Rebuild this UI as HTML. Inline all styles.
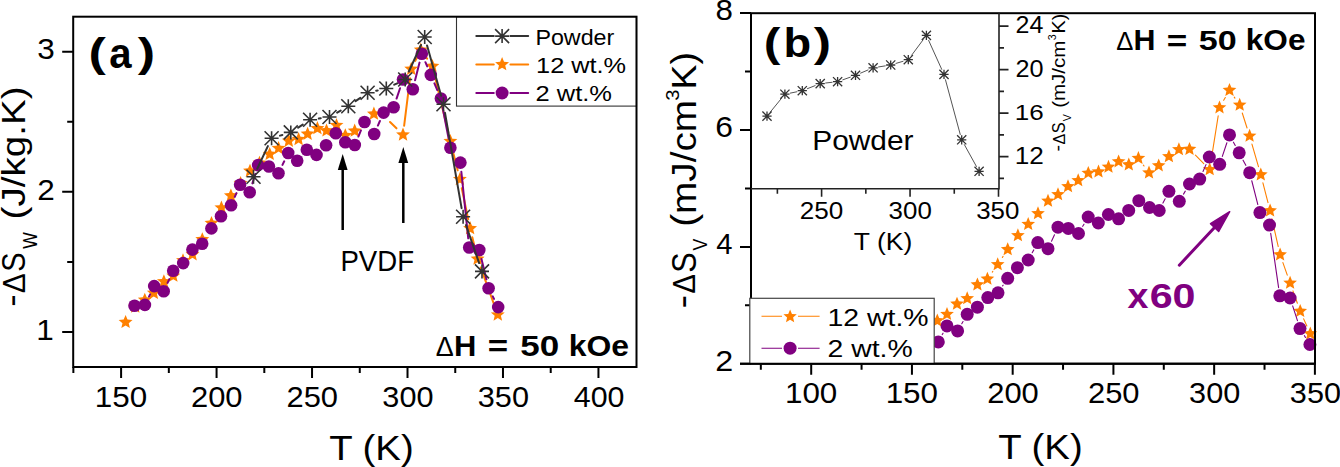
<!DOCTYPE html><html><head><meta charset="utf-8"><style>html,body{margin:0;padding:0;background:#fff;}body{width:1340px;height:467px;overflow:hidden;}svg{display:block;font-family:"Liberation Sans",sans-serif;}</style></head><body><svg width="1340" height="467" viewBox="0 0 1340 467">
<rect width="1340" height="467" fill="#fff"/>
<path d="M361.59,124.80L367.01,120.00M390.04,121.97L396.46,128.33M404.14,125.67L410.06,78.23M415.31,60.87L416.69,58.13M426.13,57.40L427.07,58.70M434.54,75.15L448.26,132.35M452.63,150.23L457.67,170.37M461.77,188.31L468.23,219.39M472.30,237.33L475.40,249.97M480.73,267.55L494.67,306.15" stroke="#ff8000" stroke-width="2" fill="none" stroke-linecap="round"/>
<polygon points="125.60,314.90 127.53,319.54 132.54,319.94 128.72,323.22 129.89,328.11 125.60,325.49 121.31,328.11 122.48,323.22 118.66,319.94 123.67,319.54" fill="#ff8000"/>
<polygon points="135.20,299.50 137.13,304.14 142.14,304.54 138.32,307.82 139.49,312.71 135.20,310.09 130.91,312.71 132.08,307.82 128.26,304.54 133.27,304.14" fill="#ff8000"/>
<polygon points="144.80,292.70 146.73,297.34 151.74,297.74 147.92,301.02 149.09,305.91 144.80,303.29 140.51,305.91 141.68,301.02 137.86,297.74 142.87,297.34" fill="#ff8000"/>
<polygon points="153.80,285.80 155.73,290.44 160.74,290.84 156.92,294.12 158.09,299.01 153.80,296.39 149.51,299.01 150.68,294.12 146.86,290.84 151.87,290.44" fill="#ff8000"/>
<polygon points="163.90,274.30 165.83,278.94 170.84,279.34 167.02,282.62 168.19,287.51 163.90,284.89 159.61,287.51 160.78,282.62 156.96,279.34 161.97,278.94" fill="#ff8000"/>
<polygon points="173.30,268.60 175.23,273.24 180.24,273.64 176.42,276.92 177.59,281.81 173.30,279.19 169.01,281.81 170.18,276.92 166.36,273.64 171.37,273.24" fill="#ff8000"/>
<polygon points="183.00,253.30 184.93,257.94 189.94,258.34 186.12,261.62 187.29,266.51 183.00,263.89 178.71,266.51 179.88,261.62 176.06,258.34 181.07,257.94" fill="#ff8000"/>
<polygon points="192.50,247.20 194.43,251.84 199.44,252.24 195.62,255.52 196.79,260.41 192.50,257.79 188.21,260.41 189.38,255.52 185.56,252.24 190.57,251.84" fill="#ff8000"/>
<polygon points="202.30,232.20 204.23,236.84 209.24,237.24 205.42,240.52 206.59,245.41 202.30,242.78 198.01,245.41 199.18,240.52 195.36,237.24 200.37,236.84" fill="#ff8000"/>
<polygon points="211.50,215.90 213.43,220.54 218.44,220.94 214.62,224.22 215.79,229.11 211.50,226.48 207.21,229.11 208.38,224.22 204.56,220.94 209.57,220.54" fill="#ff8000"/>
<polygon points="221.40,200.50 223.33,205.14 228.34,205.54 224.52,208.82 225.69,213.71 221.40,211.09 217.11,213.71 218.28,208.82 214.46,205.54 219.47,205.14" fill="#ff8000"/>
<polygon points="230.90,188.40 232.83,193.04 237.84,193.44 234.02,196.72 235.19,201.61 230.90,198.98 226.61,201.61 227.78,196.72 223.96,193.44 228.97,193.04" fill="#ff8000"/>
<polygon points="240.60,176.00 242.53,180.64 247.54,181.04 243.72,184.32 244.89,189.21 240.60,186.59 236.31,189.21 237.48,184.32 233.66,181.04 238.67,180.64" fill="#ff8000"/>
<polygon points="250.00,163.70 251.93,168.34 256.94,168.74 253.12,172.02 254.29,176.91 250.00,174.28 245.71,176.91 246.88,172.02 243.06,168.74 248.07,168.34" fill="#ff8000"/>
<polygon points="259.50,155.70 261.43,160.34 266.44,160.74 262.62,164.02 263.79,168.91 259.50,166.28 255.21,168.91 256.38,164.02 252.56,160.74 257.57,160.34" fill="#ff8000"/>
<polygon points="269.70,146.90 271.63,151.54 276.64,151.94 272.82,155.22 273.99,160.11 269.70,157.48 265.41,160.11 266.58,155.22 262.76,151.94 267.77,151.54" fill="#ff8000"/>
<polygon points="278.60,141.00 280.53,145.64 285.54,146.04 281.72,149.32 282.89,154.21 278.60,151.59 274.31,154.21 275.48,149.32 271.66,146.04 276.67,145.64" fill="#ff8000"/>
<polygon points="288.80,133.70 290.73,138.34 295.74,138.74 291.92,142.02 293.09,146.91 288.80,144.28 284.51,146.91 285.68,142.02 281.86,138.74 286.87,138.34" fill="#ff8000"/>
<polygon points="298.60,132.00 300.53,136.64 305.54,137.04 301.72,140.32 302.89,145.21 298.60,142.59 294.31,145.21 295.48,140.32 291.66,137.04 296.67,136.64" fill="#ff8000"/>
<polygon points="307.60,126.70 309.53,131.34 314.54,131.74 310.72,135.02 311.89,139.91 307.60,137.28 303.31,139.91 304.48,135.02 300.66,131.74 305.67,131.34" fill="#ff8000"/>
<polygon points="317.40,121.10 319.33,125.74 324.34,126.14 320.52,129.42 321.69,134.31 317.40,131.69 313.11,134.31 314.28,129.42 310.46,126.14 315.47,125.74" fill="#ff8000"/>
<polygon points="326.50,123.40 328.43,128.04 333.44,128.44 329.62,131.72 330.79,136.61 326.50,133.98 322.21,136.61 323.38,131.72 319.56,128.44 324.57,128.04" fill="#ff8000"/>
<polygon points="336.50,118.00 338.43,122.64 343.44,123.04 339.62,126.32 340.79,131.21 336.50,128.59 332.21,131.21 333.38,126.32 329.56,123.04 334.57,122.64" fill="#ff8000"/>
<polygon points="345.30,128.20 347.23,132.84 352.24,133.24 348.42,136.52 349.59,141.41 345.30,138.78 341.01,141.41 342.18,136.52 338.36,133.24 343.37,132.84" fill="#ff8000"/>
<polygon points="354.70,123.60 356.63,128.24 361.64,128.64 357.82,131.92 358.99,136.81 354.70,134.19 350.41,136.81 351.58,131.92 347.76,128.64 352.77,128.24" fill="#ff8000"/>
<polygon points="373.90,106.60 375.83,111.24 380.84,111.64 377.02,114.92 378.19,119.81 373.90,117.19 369.61,119.81 370.78,114.92 366.96,111.64 371.97,111.24" fill="#ff8000"/>
<polygon points="403.00,127.50 404.93,132.14 409.94,132.54 406.12,135.82 407.29,140.71 403.00,138.09 398.71,140.71 399.88,135.82 396.06,132.54 401.07,132.14" fill="#ff8000"/>
<polygon points="411.20,61.80 413.13,66.44 418.14,66.84 414.32,70.12 415.49,75.01 411.20,72.38 406.91,75.01 408.08,70.12 404.26,66.84 409.27,66.44" fill="#ff8000"/>
<polygon points="420.80,42.60 422.73,47.24 427.74,47.64 423.92,50.92 425.09,55.81 420.80,53.19 416.51,55.81 417.68,50.92 413.86,47.64 418.87,47.24" fill="#ff8000"/>
<polygon points="432.40,58.90 434.33,63.54 439.34,63.94 435.52,67.22 436.69,72.11 432.40,69.48 428.11,72.11 429.28,67.22 425.46,63.94 430.47,63.54" fill="#ff8000"/>
<polygon points="450.40,134.00 452.33,138.64 457.34,139.04 453.52,142.32 454.69,147.21 450.40,144.59 446.11,147.21 447.28,142.32 443.46,139.04 448.47,138.64" fill="#ff8000"/>
<polygon points="459.90,172.00 461.83,176.64 466.84,177.04 463.02,180.32 464.19,185.21 459.90,182.59 455.61,185.21 456.78,180.32 452.96,177.04 457.97,176.64" fill="#ff8000"/>
<polygon points="470.10,221.10 472.03,225.74 477.04,226.14 473.22,229.42 474.39,234.31 470.10,231.69 465.81,234.31 466.98,229.42 463.16,226.14 468.17,225.74" fill="#ff8000"/>
<polygon points="477.60,251.60 479.53,256.24 484.54,256.64 480.72,259.92 481.89,264.81 477.60,262.19 473.31,264.81 474.48,259.92 470.66,256.64 475.67,256.24" fill="#ff8000"/>
<polygon points="497.80,307.50 499.73,312.14 504.74,312.54 500.92,315.82 502.09,320.71 497.80,318.09 493.51,320.71 494.68,315.82 490.86,312.54 495.87,312.14" fill="#ff8000"/>
<path d="M148.98,296.65L150.12,294.35M167.57,282.95L169.33,279.15M234.78,196.87L236.42,193.13M252.42,183.41L255.38,173.89M282.48,164.91L284.22,161.29M358.38,136.52L360.92,130.48M377.90,125.58L379.90,121.02M396.55,98.58L400.05,88.22M415.06,80.28L419.54,62.62M425.40,62.17L427.20,66.43M434.42,83.36L437.28,90.04M442.64,107.53L448.66,138.77M461.35,171.75L468.25,238.35M481.48,258.94L486.42,279.26M492.77,296.40L494.03,298.90" stroke="#800080" stroke-width="2" fill="none" stroke-linecap="round"/>
<circle cx="134.50" cy="305.80" r="6.3" fill="#800080"/>
<circle cx="144.90" cy="304.90" r="6.3" fill="#800080"/>
<circle cx="154.20" cy="286.10" r="6.3" fill="#800080"/>
<circle cx="163.70" cy="291.30" r="6.3" fill="#800080"/>
<circle cx="173.20" cy="270.80" r="6.3" fill="#800080"/>
<circle cx="183.20" cy="263.10" r="6.3" fill="#800080"/>
<circle cx="192.40" cy="249.60" r="6.3" fill="#800080"/>
<circle cx="202.20" cy="243.80" r="6.3" fill="#800080"/>
<circle cx="211.40" cy="228.40" r="6.3" fill="#800080"/>
<circle cx="221.00" cy="216.30" r="6.3" fill="#800080"/>
<circle cx="231.10" cy="205.30" r="6.3" fill="#800080"/>
<circle cx="240.10" cy="184.70" r="6.3" fill="#800080"/>
<circle cx="249.70" cy="192.20" r="6.3" fill="#800080"/>
<circle cx="258.10" cy="165.10" r="6.3" fill="#800080"/>
<circle cx="268.90" cy="166.50" r="6.3" fill="#800080"/>
<circle cx="278.50" cy="173.20" r="6.3" fill="#800080"/>
<circle cx="288.20" cy="153.00" r="6.3" fill="#800080"/>
<circle cx="297.20" cy="160.70" r="6.3" fill="#800080"/>
<circle cx="306.80" cy="149.70" r="6.3" fill="#800080"/>
<circle cx="316.50" cy="154.90" r="6.3" fill="#800080"/>
<circle cx="326.10" cy="145.30" r="6.3" fill="#800080"/>
<circle cx="335.80" cy="133.20" r="6.3" fill="#800080"/>
<circle cx="345.30" cy="142.30" r="6.3" fill="#800080"/>
<circle cx="354.80" cy="145.00" r="6.3" fill="#800080"/>
<circle cx="364.50" cy="122.00" r="6.3" fill="#800080"/>
<circle cx="374.20" cy="134.00" r="6.3" fill="#800080"/>
<circle cx="383.60" cy="112.60" r="6.3" fill="#800080"/>
<circle cx="393.60" cy="107.30" r="6.3" fill="#800080"/>
<circle cx="403.00" cy="79.50" r="6.3" fill="#800080"/>
<circle cx="412.80" cy="89.20" r="6.3" fill="#800080"/>
<circle cx="421.80" cy="53.70" r="6.3" fill="#800080"/>
<circle cx="430.80" cy="74.90" r="6.3" fill="#800080"/>
<circle cx="440.90" cy="98.50" r="6.3" fill="#800080"/>
<circle cx="450.40" cy="147.80" r="6.3" fill="#800080"/>
<circle cx="460.40" cy="162.60" r="6.3" fill="#800080"/>
<circle cx="469.20" cy="247.50" r="6.3" fill="#800080"/>
<circle cx="479.30" cy="250.00" r="6.3" fill="#800080"/>
<circle cx="488.60" cy="288.20" r="6.3" fill="#800080"/>
<circle cx="498.20" cy="307.10" r="6.3" fill="#800080"/>
<path d="M257.24,168.74L267.86,146.16M280.02,135.66L282.38,134.94M298.17,127.59L302.73,124.61M318.81,118.54L320.79,118.26M337.13,112.62L340.67,110.58M355.53,101.18L360.37,97.82M376.18,90.83L377.72,90.47M394.25,84.72L397.25,83.28M408.87,71.50L421.03,45.00M427.07,45.47L441.13,95.73M445.01,112.87L461.59,208.13M465.98,225.12L479.12,263.08" stroke="#333333" stroke-width="2" fill="none" stroke-linecap="round"/>
<path d="M246.50,176.70H260.50M253.50,169.70V183.70M246.50,169.70L260.50,183.70M246.50,183.70L260.50,169.70" stroke="#333333" stroke-width="1.6" fill="none"/>
<path d="M264.60,138.20H278.60M271.60,131.20V145.20M264.60,131.20L278.60,145.20M264.60,145.20L278.60,131.20" stroke="#333333" stroke-width="1.6" fill="none"/>
<path d="M283.80,132.40H297.80M290.80,125.40V139.40M283.80,125.40L297.80,139.40M283.80,139.40L297.80,125.40" stroke="#333333" stroke-width="1.6" fill="none"/>
<path d="M303.10,119.80H317.10M310.10,112.80V126.80M303.10,112.80L317.10,126.80M303.10,126.80L317.10,112.80" stroke="#333333" stroke-width="1.6" fill="none"/>
<path d="M322.50,117.00H336.50M329.50,110.00V124.00M322.50,110.00L336.50,124.00M322.50,124.00L336.50,110.00" stroke="#333333" stroke-width="1.6" fill="none"/>
<path d="M341.30,106.20H355.30M348.30,99.20V113.20M341.30,99.20L355.30,113.20M341.30,113.20L355.30,99.20" stroke="#333333" stroke-width="1.6" fill="none"/>
<path d="M360.60,92.80H374.60M367.60,85.80V99.80M360.60,85.80L374.60,99.80M360.60,99.80L374.60,85.80" stroke="#333333" stroke-width="1.6" fill="none"/>
<path d="M379.30,88.50H393.30M386.30,81.50V95.50M379.30,81.50L393.30,95.50M379.30,95.50L393.30,81.50" stroke="#333333" stroke-width="1.6" fill="none"/>
<path d="M398.20,79.50H412.20M405.20,72.50V86.50M398.20,72.50L412.20,86.50M398.20,86.50L412.20,72.50" stroke="#333333" stroke-width="1.6" fill="none"/>
<path d="M417.70,37.00H431.70M424.70,30.00V44.00M417.70,30.00L431.70,44.00M417.70,44.00L431.70,30.00" stroke="#333333" stroke-width="1.6" fill="none"/>
<path d="M436.50,104.20H450.50M443.50,97.20V111.20M436.50,97.20L450.50,111.20M436.50,111.20L450.50,97.20" stroke="#333333" stroke-width="1.6" fill="none"/>
<path d="M456.10,216.80H470.10M463.10,209.80V223.80M456.10,209.80L470.10,223.80M456.10,223.80L470.10,209.80" stroke="#333333" stroke-width="1.6" fill="none"/>
<path d="M475.00,271.40H489.00M482.00,264.40V278.40M475.00,264.40L489.00,278.40M475.00,278.40L489.00,264.40" stroke="#333333" stroke-width="1.6" fill="none"/>
<path d="M121.10,367.0V378.0M216.57,367.0V378.0M312.04,367.0V378.0M407.51,367.0V378.0M502.98,367.0V378.0M598.45,367.0V378.0M73.36,367.0V373.0M168.83,367.0V373.0M264.31,367.0V373.0M359.77,367.0V373.0M455.25,367.0V373.0M550.72,367.0V373.0M73.2,332.00H62.2M73.2,191.85H62.2M73.2,51.70H62.2M73.2,261.93H67.2M73.2,121.77H67.2" stroke="#000" stroke-width="2" fill="none"/>
<rect x="456.5" y="16.7" width="180.00" height="89.40" fill="#fff" stroke="#333" stroke-width="1.1"/>
<path d="M476.3,36.1H493.8M510.4,36.1H528.2" stroke="#333333" stroke-width="2" stroke-linecap="round"/>
<path d="M495.10,36.10H509.10M502.10,29.10V43.10M495.10,29.10L509.10,43.10M495.10,43.10L509.10,29.10" stroke="#333333" stroke-width="1.6" fill="none"/>
<path d="M476.3,64.6H493.8M510.4,64.6H528.2" stroke="#ff8000" stroke-width="2" stroke-linecap="round"/>
<polygon points="502.10,57.10 504.03,61.74 509.04,62.14 505.22,65.42 506.39,70.31 502.10,67.69 497.81,70.31 498.98,65.42 495.16,62.14 500.17,61.74" fill="#ff8000"/>
<path d="M476.3,93H493.8M510.4,93H528.2" stroke="#800080" stroke-width="2" stroke-linecap="round"/>
<circle cx="502.10" cy="93.00" r="6.5" fill="#800080"/>
<text transform="translate(535.39,44.70) scale(1.0823,1)" font-size="21.5" font-weight="normal" fill="#000">Powder</text>
<text transform="translate(536.07,72.80) scale(1.1772,1)" font-size="21.5" font-weight="normal" fill="#000">12 wt.%</text>
<text transform="translate(535.52,101.00) scale(1.1855,1)" font-size="21.5" font-weight="normal" fill="#000">2 wt.%</text>
<rect x="73.2" y="16.7" width="563.30" height="350.30" fill="none" stroke="#000" stroke-width="2"/>
<text transform="translate(37.17,59.40) scale(1.0500,1)" font-size="30" font-weight="normal" fill="#000">3</text>
<text transform="translate(37.37,199.70) scale(1.0500,1)" font-size="30" font-weight="normal" fill="#000">2</text>
<text transform="translate(36.22,339.70) scale(1.0500,1)" font-size="30" font-weight="normal" fill="#000">1</text>
<text transform="translate(94.71,406.60) scale(1.0473,1)" font-size="30" font-weight="normal" fill="#000">150</text>
<text transform="translate(191.02,406.60) scale(1.0301,1)" font-size="30" font-weight="normal" fill="#000">200</text>
<text transform="translate(286.49,406.60) scale(1.0301,1)" font-size="30" font-weight="normal" fill="#000">250</text>
<text transform="translate(382.34,406.60) scale(1.0222,1)" font-size="30" font-weight="normal" fill="#000">300</text>
<text transform="translate(477.81,406.60) scale(1.0222,1)" font-size="30" font-weight="normal" fill="#000">350</text>
<text transform="translate(573.75,406.60) scale(1.0126,1)" font-size="30" font-weight="normal" fill="#000">400</text>
<text transform="translate(329.14,460.10) scale(1.0808,1)" font-size="35.5" font-weight="normal" fill="#000">T (K)</text>
<path d="M342.7,230V165M403.3,223V158" stroke="#000" stroke-width="2.5"/>
<polygon points="342.7,154 337.8,170 347.6,170" fill="#000"/>
<polygon points="403.3,147 398.4,163 408.2,163" fill="#000"/>
<text transform="translate(340.44,270.80) scale(0.9256,1)" font-size="29.8" font-weight="normal" fill="#000">PVDF</text>
<text transform="translate(88.61,67.31) scale(0.5209,0.4045)" font-size="100" font-weight="bold" fill="#000">(</text>
<text transform="translate(109.22,67.89) scale(0.4013,0.4235)" font-size="100" font-weight="bold" fill="#000">a</text>
<text transform="translate(137.65,67.31) scale(0.5209,0.4045)" font-size="100" font-weight="bold" fill="#000">)</text>
<text transform="translate(435.80,356.10) scale(0.2698,0.2733)" font-size="100" font-weight="normal" fill="#000">Δ</text>
<text transform="translate(453.93,356.10) scale(0.3096,0.3009)" font-size="100" font-weight="bold" fill="#000">H</text>
<text transform="translate(487.65,356.34) scale(0.3490,0.2911)" font-size="100" font-weight="bold" fill="#000">=</text>
<text transform="translate(520.32,355.82) scale(0.3498,0.2895)" font-size="100" font-weight="bold" fill="#000">50</text>
<text transform="translate(568.77,355.82) scale(0.3191,0.2887)" font-size="100" font-weight="bold" fill="#000">kOe</text>
<path d="M992.29,272.07L992.81,271.33M1002.34,257.50L1003.06,256.40M1143.36,165.08L1144.04,166.02M1195.43,155.15L1203.77,163.55M1211.01,161.20L1218.19,115.90M1223.69,100.32L1225.31,97.48M1234.27,97.12L1234.93,98.08M1242.26,113.00L1247.04,128.00M1251.94,144.07L1258.46,166.63M1262.90,182.83L1268.00,202.57M1271.96,218.89L1278.24,246.51M1282.90,262.62L1287.30,275.08M1292.93,290.91L1297.37,303.29M1303.64,318.86L1306.86,326.04" stroke="#ff8000" stroke-width="1.1" fill="none" stroke-linecap="round"/>
<polygon points="937.30,313.50 939.20,318.08 944.15,318.48 940.38,321.70 941.53,326.52 937.30,323.94 933.07,326.52 934.22,321.70 930.45,318.48 935.40,318.08" fill="#ff8000"/>
<polygon points="947.00,307.10 948.90,311.68 953.85,312.08 950.08,315.30 951.23,320.12 947.00,317.54 942.77,320.12 943.92,315.30 940.15,312.08 945.10,311.68" fill="#ff8000"/>
<polygon points="957.00,296.70 958.90,301.28 963.85,301.68 960.08,304.90 961.23,309.72 957.00,307.14 952.77,309.72 953.92,304.90 950.15,301.68 955.10,301.28" fill="#ff8000"/>
<polygon points="967.20,291.30 969.10,295.88 974.05,296.28 970.28,299.50 971.43,304.32 967.20,301.74 962.97,304.32 964.12,299.50 960.35,296.28 965.30,295.88" fill="#ff8000"/>
<polygon points="977.40,277.50 979.30,282.08 984.25,282.48 980.48,285.70 981.63,290.52 977.40,287.94 973.17,290.52 974.32,285.70 970.55,282.48 975.50,282.08" fill="#ff8000"/>
<polygon points="987.40,271.70 989.30,276.28 994.25,276.68 990.48,279.90 991.63,284.72 987.40,282.14 983.17,284.72 984.32,279.90 980.55,276.68 985.50,276.28" fill="#ff8000"/>
<polygon points="997.70,257.30 999.60,261.88 1004.55,262.28 1000.78,265.50 1001.93,270.32 997.70,267.74 993.47,270.32 994.62,265.50 990.85,262.28 995.80,261.88" fill="#ff8000"/>
<polygon points="1007.70,242.20 1009.60,246.78 1014.55,247.18 1010.78,250.40 1011.93,255.22 1007.70,252.64 1003.47,255.22 1004.62,250.40 1000.85,247.18 1005.80,246.78" fill="#ff8000"/>
<polygon points="1017.90,228.30 1019.80,232.88 1024.75,233.28 1020.98,236.50 1022.13,241.32 1017.90,238.74 1013.67,241.32 1014.82,236.50 1011.05,233.28 1016.00,232.88" fill="#ff8000"/>
<polygon points="1028.20,217.10 1030.10,221.68 1035.05,222.08 1031.28,225.30 1032.43,230.12 1028.20,227.54 1023.97,230.12 1025.12,225.30 1021.35,222.08 1026.30,221.68" fill="#ff8000"/>
<polygon points="1038.00,206.30 1039.90,210.88 1044.85,211.28 1041.08,214.50 1042.23,219.32 1038.00,216.74 1033.77,219.32 1034.92,214.50 1031.15,211.28 1036.10,210.88" fill="#ff8000"/>
<polygon points="1048.00,193.80 1049.90,198.38 1054.85,198.78 1051.08,202.00 1052.23,206.82 1048.00,204.24 1043.77,206.82 1044.92,202.00 1041.15,198.78 1046.10,198.38" fill="#ff8000"/>
<polygon points="1058.00,187.30 1059.90,191.88 1064.85,192.28 1061.08,195.50 1062.23,200.32 1058.00,197.74 1053.77,200.32 1054.92,195.50 1051.15,192.28 1056.10,191.88" fill="#ff8000"/>
<polygon points="1068.00,179.30 1069.90,183.88 1074.85,184.28 1071.08,187.50 1072.23,192.32 1068.00,189.74 1063.77,192.32 1064.92,187.50 1061.15,184.28 1066.10,183.88" fill="#ff8000"/>
<polygon points="1078.20,173.30 1080.10,177.88 1085.05,178.28 1081.28,181.50 1082.43,186.32 1078.20,183.74 1073.97,186.32 1075.12,181.50 1071.35,178.28 1076.30,177.88" fill="#ff8000"/>
<polygon points="1088.30,165.90 1090.20,170.48 1095.15,170.88 1091.38,174.10 1092.53,178.92 1088.30,176.34 1084.07,178.92 1085.22,174.10 1081.45,170.88 1086.40,170.48" fill="#ff8000"/>
<polygon points="1098.50,164.60 1100.40,169.18 1105.35,169.58 1101.58,172.80 1102.73,177.62 1098.50,175.04 1094.27,177.62 1095.42,172.80 1091.65,169.58 1096.60,169.18" fill="#ff8000"/>
<polygon points="1108.50,159.80 1110.40,164.38 1115.35,164.78 1111.58,168.00 1112.73,172.82 1108.50,170.24 1104.27,172.82 1105.42,168.00 1101.65,164.78 1106.60,164.38" fill="#ff8000"/>
<polygon points="1118.60,154.40 1120.50,158.98 1125.45,159.38 1121.68,162.60 1122.83,167.42 1118.60,164.84 1114.37,167.42 1115.52,162.60 1111.75,159.38 1116.70,158.98" fill="#ff8000"/>
<polygon points="1128.80,157.50 1130.70,162.08 1135.65,162.48 1131.88,165.70 1133.03,170.52 1128.80,167.94 1124.57,170.52 1125.72,165.70 1121.95,162.48 1126.90,162.08" fill="#ff8000"/>
<polygon points="1138.40,151.10 1140.30,155.68 1145.25,156.08 1141.48,159.30 1142.63,164.12 1138.40,161.54 1134.17,164.12 1135.32,159.30 1131.55,156.08 1136.50,155.68" fill="#ff8000"/>
<polygon points="1149.00,165.60 1150.90,170.18 1155.85,170.58 1152.08,173.80 1153.23,178.62 1149.00,176.04 1144.77,178.62 1145.92,173.80 1142.15,170.58 1147.10,170.18" fill="#ff8000"/>
<polygon points="1158.70,158.40 1160.60,162.98 1165.55,163.38 1161.78,166.60 1162.93,171.42 1158.70,168.84 1154.47,171.42 1155.62,166.60 1151.85,163.38 1156.80,162.98" fill="#ff8000"/>
<polygon points="1168.90,149.30 1170.80,153.88 1175.75,154.28 1171.98,157.50 1173.13,162.32 1168.90,159.74 1164.67,162.32 1165.82,157.50 1162.05,154.28 1167.00,153.88" fill="#ff8000"/>
<polygon points="1178.90,142.30 1180.80,146.88 1185.75,147.28 1181.98,150.50 1183.13,155.32 1178.90,152.74 1174.67,155.32 1175.82,150.50 1172.05,147.28 1177.00,146.88" fill="#ff8000"/>
<polygon points="1189.50,142.00 1191.40,146.58 1196.35,146.98 1192.58,150.20 1193.73,155.02 1189.50,152.44 1185.27,155.02 1186.42,150.20 1182.65,146.98 1187.60,146.58" fill="#ff8000"/>
<polygon points="1209.70,162.30 1211.60,166.88 1216.55,167.28 1212.78,170.50 1213.93,175.32 1209.70,172.74 1205.47,175.32 1206.62,170.50 1202.85,167.28 1207.80,166.88" fill="#ff8000"/>
<polygon points="1219.50,100.40 1221.40,104.98 1226.35,105.38 1222.58,108.60 1223.73,113.42 1219.50,110.84 1215.27,113.42 1216.42,108.60 1212.65,105.38 1217.60,104.98" fill="#ff8000"/>
<polygon points="1229.50,83.00 1231.40,87.58 1236.35,87.98 1232.58,91.20 1233.73,96.02 1229.50,93.44 1225.27,96.02 1226.42,91.20 1222.65,87.98 1227.60,87.58" fill="#ff8000"/>
<polygon points="1239.70,97.80 1241.60,102.38 1246.55,102.78 1242.78,106.00 1243.93,110.82 1239.70,108.24 1235.47,110.82 1236.62,106.00 1232.85,102.78 1237.80,102.38" fill="#ff8000"/>
<polygon points="1249.60,128.80 1251.50,133.38 1256.45,133.78 1252.68,137.00 1253.83,141.82 1249.60,139.24 1245.37,141.82 1246.52,137.00 1242.75,133.78 1247.70,133.38" fill="#ff8000"/>
<polygon points="1260.80,167.50 1262.70,172.08 1267.65,172.48 1263.88,175.70 1265.03,180.52 1260.80,177.94 1256.57,180.52 1257.72,175.70 1253.95,172.48 1258.90,172.08" fill="#ff8000"/>
<polygon points="1270.10,203.50 1272.00,208.08 1276.95,208.48 1273.18,211.70 1274.33,216.52 1270.10,213.94 1265.87,216.52 1267.02,211.70 1263.25,208.48 1268.20,208.08" fill="#ff8000"/>
<polygon points="1280.10,247.50 1282.00,252.08 1286.95,252.48 1283.18,255.70 1284.33,260.52 1280.10,257.94 1275.87,260.52 1277.02,255.70 1273.25,252.48 1278.20,252.08" fill="#ff8000"/>
<polygon points="1290.10,275.80 1292.00,280.38 1296.95,280.78 1293.18,284.00 1294.33,288.82 1290.10,286.24 1285.87,288.82 1287.02,284.00 1283.25,280.78 1288.20,280.38" fill="#ff8000"/>
<polygon points="1300.20,304.00 1302.10,308.58 1307.05,308.98 1303.28,312.20 1304.43,317.02 1300.20,314.44 1295.97,317.02 1297.12,312.20 1293.35,308.98 1298.30,308.58" fill="#ff8000"/>
<polygon points="1310.30,326.50 1312.20,331.08 1317.15,331.48 1313.38,334.70 1314.53,339.52 1310.30,336.94 1306.07,339.52 1307.22,334.70 1303.45,331.48 1308.40,331.08" fill="#ff8000"/>
<path d="M942.26,334.61L943.04,333.19M961.76,323.71L963.04,321.49M1002.61,285.90L1003.09,285.20M1032.21,252.73L1033.79,249.87M1051.50,241.17L1054.50,234.73M1082.71,226.34L1083.99,224.16M1162.94,203.09L1165.16,198.71M1183.52,194.15L1185.28,191.15M1203.01,171.49L1205.99,164.61M1222.32,156.43L1226.88,142.77M1233.45,142.20L1235.25,145.50M1243.07,160.14L1245.83,165.36M1251.76,180.74L1257.84,204.56M1270.70,233.31L1278.60,287.59M1292.65,305.90L1297.45,320.70M1304.39,335.65L1305.51,337.45" stroke="#800080" stroke-width="1.1" fill="none" stroke-linecap="round"/>
<circle cx="938.30" cy="341.90" r="6.5" fill="#800080"/>
<circle cx="947.00" cy="325.90" r="6.5" fill="#800080"/>
<circle cx="957.60" cy="330.90" r="6.5" fill="#800080"/>
<circle cx="967.20" cy="314.30" r="6.5" fill="#800080"/>
<circle cx="977.40" cy="307.20" r="6.5" fill="#800080"/>
<circle cx="987.80" cy="297.60" r="6.5" fill="#800080"/>
<circle cx="998.00" cy="292.80" r="6.5" fill="#800080"/>
<circle cx="1007.70" cy="278.30" r="6.5" fill="#800080"/>
<circle cx="1017.40" cy="267.70" r="6.5" fill="#800080"/>
<circle cx="1028.20" cy="260.00" r="6.5" fill="#800080"/>
<circle cx="1037.80" cy="242.60" r="6.5" fill="#800080"/>
<circle cx="1048.00" cy="248.70" r="6.5" fill="#800080"/>
<circle cx="1058.00" cy="227.20" r="6.5" fill="#800080"/>
<circle cx="1068.30" cy="228.40" r="6.5" fill="#800080"/>
<circle cx="1078.50" cy="233.50" r="6.5" fill="#800080"/>
<circle cx="1088.20" cy="217.00" r="6.5" fill="#800080"/>
<circle cx="1098.30" cy="223.00" r="6.5" fill="#800080"/>
<circle cx="1108.40" cy="214.50" r="6.5" fill="#800080"/>
<circle cx="1118.60" cy="218.80" r="6.5" fill="#800080"/>
<circle cx="1128.70" cy="210.40" r="6.5" fill="#800080"/>
<circle cx="1138.80" cy="200.70" r="6.5" fill="#800080"/>
<circle cx="1149.50" cy="207.50" r="6.5" fill="#800080"/>
<circle cx="1159.20" cy="210.50" r="6.5" fill="#800080"/>
<circle cx="1168.90" cy="191.30" r="6.5" fill="#800080"/>
<circle cx="1179.30" cy="201.30" r="6.5" fill="#800080"/>
<circle cx="1189.50" cy="184.00" r="6.5" fill="#800080"/>
<circle cx="1199.70" cy="179.10" r="6.5" fill="#800080"/>
<circle cx="1209.30" cy="157.00" r="6.5" fill="#800080"/>
<circle cx="1219.70" cy="164.30" r="6.5" fill="#800080"/>
<circle cx="1229.50" cy="134.90" r="6.5" fill="#800080"/>
<circle cx="1239.20" cy="152.80" r="6.5" fill="#800080"/>
<circle cx="1249.70" cy="172.70" r="6.5" fill="#800080"/>
<circle cx="1259.90" cy="212.60" r="6.5" fill="#800080"/>
<circle cx="1269.50" cy="225.10" r="6.5" fill="#800080"/>
<circle cx="1279.80" cy="295.80" r="6.5" fill="#800080"/>
<circle cx="1290.10" cy="298.00" r="6.5" fill="#800080"/>
<circle cx="1300.00" cy="328.60" r="6.5" fill="#800080"/>
<circle cx="1309.90" cy="344.50" r="6.5" fill="#800080"/>
<path d="M811.20,363.7V374.7M911.94,363.7V374.7M1012.68,363.7V374.7M1113.42,363.7V374.7M1214.16,363.7V374.7M1314.90,363.7V374.7M760.83,363.7V369.7M861.57,363.7V369.7M962.31,363.7V369.7M1063.05,363.7V369.7M1163.79,363.7V369.7M1264.53,363.7V369.7M751.0,363.80H740.0M751.0,246.90H740.0M751.0,130.00H740.0M751.0,13.10H740.0M751.0,305.35H745.0M751.0,188.45H745.0M751.0,71.55H745.0" stroke="#000" stroke-width="2" fill="none"/>
<rect x="751.0" y="13.2" width="564.00" height="350.50" fill="none" stroke="#000" stroke-width="2"/>
<path d="M821.60,188.8V196.8M910.05,188.8V196.8M998.50,188.8V196.8M777.38,188.8V193.8M865.83,188.8V193.8M954.27,188.8V193.8M999.0,26.10H1008.5M999.0,69.60H1008.5M999.0,113.10H1008.5M999.0,156.60H1008.5M999.0,47.85H1004.0M999.0,91.35H1004.0M999.0,134.85H1004.0M999.0,178.35H1004.0" stroke="#222" stroke-width="1.6" fill="none"/>
<path d="M751.0,188.8H999.0V13.2" stroke="#222" stroke-width="1.6" fill="none"/>
<path d="M770.48,111.84L781.42,98.46M790.29,93.12L796.91,91.78M807.41,88.67L815.09,85.63M825.67,83.00L832.13,82.30M842.78,79.85L850.32,77.15M860.56,73.14L868.04,69.96M878.53,66.94L885.27,65.86M895.97,63.41L903.03,61.29M911.59,55.29L923.11,39.81M928.66,40.41L941.74,69.39M945.44,79.71L960.26,134.49M964.36,144.61L976.44,166.49" stroke="#555" stroke-width="1" fill="none" stroke-linecap="round"/>
<path d="M762.40,116.10H771.60M767.00,111.50V120.70M762.40,111.50L771.60,120.70M762.40,120.70L771.60,111.50" stroke="#333333" stroke-width="1.3" fill="none"/>
<path d="M780.30,94.20H789.50M784.90,89.60V98.80M780.30,89.60L789.50,98.80M780.30,98.80L789.50,89.60" stroke="#333333" stroke-width="1.3" fill="none"/>
<path d="M797.70,90.70H806.90M802.30,86.10V95.30M797.70,86.10L806.90,95.30M797.70,95.30L806.90,86.10" stroke="#333333" stroke-width="1.3" fill="none"/>
<path d="M815.60,83.60H824.80M820.20,79.00V88.20M815.60,79.00L824.80,88.20M815.60,88.20L824.80,79.00" stroke="#333333" stroke-width="1.3" fill="none"/>
<path d="M833.00,81.70H842.20M837.60,77.10V86.30M833.00,77.10L842.20,86.30M833.00,86.30L842.20,77.10" stroke="#333333" stroke-width="1.3" fill="none"/>
<path d="M850.90,75.30H860.10M855.50,70.70V79.90M850.90,70.70L860.10,79.90M850.90,79.90L860.10,70.70" stroke="#333333" stroke-width="1.3" fill="none"/>
<path d="M868.50,67.80H877.70M873.10,63.20V72.40M868.50,63.20L877.70,72.40M868.50,72.40L877.70,63.20" stroke="#333333" stroke-width="1.3" fill="none"/>
<path d="M886.10,65.00H895.30M890.70,60.40V69.60M886.10,60.40L895.30,69.60M886.10,69.60L895.30,60.40" stroke="#333333" stroke-width="1.3" fill="none"/>
<path d="M903.70,59.70H912.90M908.30,55.10V64.30M903.70,55.10L912.90,64.30M903.70,64.30L912.90,55.10" stroke="#333333" stroke-width="1.3" fill="none"/>
<path d="M921.80,35.40H931.00M926.40,30.80V40.00M921.80,30.80L931.00,40.00M921.80,40.00L931.00,30.80" stroke="#333333" stroke-width="1.3" fill="none"/>
<path d="M939.40,74.40H948.60M944.00,69.80V79.00M939.40,69.80L948.60,79.00M939.40,79.00L948.60,69.80" stroke="#333333" stroke-width="1.3" fill="none"/>
<path d="M957.10,139.80H966.30M961.70,135.20V144.40M957.10,135.20L966.30,144.40M957.10,144.40L966.30,135.20" stroke="#333333" stroke-width="1.3" fill="none"/>
<path d="M974.50,171.30H983.70M979.10,166.70V175.90M974.50,166.70L983.70,175.90M974.50,175.90L983.70,166.70" stroke="#333333" stroke-width="1.3" fill="none"/>
<text transform="translate(812.25,149.60) scale(1.0589,1)" font-size="28.2" font-weight="normal" fill="#000">Powder</text>
<text transform="translate(799.69,219.00) scale(1.1344,1)" font-size="23" font-weight="normal" fill="#000">250</text>
<text transform="translate(888.61,219.00) scale(1.1257,1)" font-size="23" font-weight="normal" fill="#000">300</text>
<text transform="translate(976.21,219.00) scale(1.1257,1)" font-size="23" font-weight="normal" fill="#000">350</text>
<text transform="translate(853.80,249.60) scale(1.1535,1)" font-size="23" font-weight="normal" fill="#000">T (K)</text>
<text transform="translate(1015.54,33.20) scale(1.0862,1)" font-size="23" font-weight="normal" fill="#000">24</text>
<text transform="translate(1015.53,76.70) scale(1.0966,1)" font-size="23" font-weight="normal" fill="#000">20</text>
<text transform="translate(1014.82,120.20) scale(1.1306,1)" font-size="23" font-weight="normal" fill="#000">16</text>
<text transform="translate(1014.81,163.70) scale(1.1379,1)" font-size="23" font-weight="normal" fill="#000">12</text>
<rect x="749.8" y="298.3" width="184.40" height="65.40" fill="#fff" stroke="#444" stroke-width="1.2"/>
<path d="M761.5,316.3H782M798,316.3H819.6" stroke="#ff8000" stroke-width="1.1"/>
<polygon points="790.10,309.50 791.95,313.95 796.76,314.34 793.10,317.47 794.21,322.16 790.10,319.65 785.99,322.16 787.10,317.47 783.44,314.34 788.25,313.95" fill="#ff8000"/>
<path d="M761.5,348.2H782M798,348.2H819.6" stroke="#800080" stroke-width="1.1"/>
<circle cx="790.10" cy="348.20" r="6.5" fill="#800080"/>
<text transform="translate(827.54,326.20) scale(1.1504,1)" font-size="24.7" font-weight="normal" fill="#000">12 wt.%</text>
<text transform="translate(827.57,357.20) scale(1.1486,1)" font-size="24.7" font-weight="normal" fill="#000">2 wt.%</text>
<path d="M740.0,363.7H1315.0" stroke="#000" stroke-width="2"/>
<text transform="translate(715.54,20.40) scale(1.0442,1)" font-size="30" font-weight="normal" fill="#000">8</text>
<text transform="translate(715.28,137.30) scale(1.0619,1)" font-size="30" font-weight="normal" fill="#000">6</text>
<text transform="translate(716.23,254.20) scale(0.9724,1)" font-size="30" font-weight="normal" fill="#000">4</text>
<text transform="translate(715.28,371.10) scale(1.0756,1)" font-size="30" font-weight="normal" fill="#000">2</text>
<text transform="translate(784.91,403.00) scale(1.0473,1)" font-size="30" font-weight="normal" fill="#000">100</text>
<text transform="translate(885.65,403.00) scale(1.0473,1)" font-size="30" font-weight="normal" fill="#000">150</text>
<text transform="translate(987.23,403.00) scale(1.0301,1)" font-size="30" font-weight="normal" fill="#000">200</text>
<text transform="translate(1087.97,403.00) scale(1.0301,1)" font-size="30" font-weight="normal" fill="#000">250</text>
<text transform="translate(1189.09,403.00) scale(1.0222,1)" font-size="30" font-weight="normal" fill="#000">300</text>
<text transform="translate(1289.83,403.00) scale(1.0222,1)" font-size="30" font-weight="normal" fill="#000">350</text>
<text transform="translate(998.14,459.00) scale(1.0808,1)" font-size="35.5" font-weight="normal" fill="#000">T (K)</text>
<text transform="translate(763.71,56.70) scale(0.4996,0.4002)" font-size="100" font-weight="bold" fill="#000">(</text>
<text transform="translate(783.62,57.31) scale(0.4525,0.4044)" font-size="100" font-weight="bold" fill="#000">b</text>
<text transform="translate(813.85,56.70) scale(0.5209,0.4002)" font-size="100" font-weight="bold" fill="#000">)</text>
<text transform="translate(1116.14,50.00) scale(0.2566,0.2602)" font-size="100" font-weight="normal" fill="#000">Δ</text>
<text transform="translate(1133.46,50.00) scale(0.3045,0.2878)" font-size="100" font-weight="bold" fill="#000">H</text>
<text transform="translate(1166.84,50.66) scale(0.3510,0.2858)" font-size="100" font-weight="bold" fill="#000">=</text>
<text transform="translate(1198.85,49.82) scale(0.3412,0.2853)" font-size="100" font-weight="bold" fill="#000">50</text>
<text transform="translate(1245.80,49.82) scale(0.3158,0.2873)" font-size="100" font-weight="bold" fill="#000">kOe</text>
<text transform="translate(1127.54,307.70) scale(0.3764,0.3558)" font-size="100" font-weight="bold" fill="#800080">x</text>
<text transform="translate(1149.69,307.85) scale(0.4117,0.3559)" font-size="100" font-weight="bold" fill="#800080">60</text>
<path d="M1179.3,265.2L1215,227" stroke="#800080" stroke-width="3" stroke-linecap="round"/>
<polygon points="1229.7,211.7 1210.5,223.7 1218.7,231.5" fill="#800080" stroke="#800080" stroke-width="1.5" stroke-linejoin="round"/>
<text transform="translate(22.78,306.76) rotate(-90) scale(1.1295,1)" font-size="33" font-weight="normal" fill="#000">-</text>
<text transform="translate(25.20,293.19) rotate(-90) scale(0.9752,1)" font-size="30.7" font-weight="normal" fill="#000">Δ</text>
<text transform="translate(25.30,271.82) rotate(-90) scale(0.8791,1)" font-size="33" font-weight="normal" fill="#000">S</text>
<text transform="translate(37.30,248.78) rotate(-90) scale(0.8343,1)" font-size="21" font-weight="normal" fill="#000">W</text>
<text transform="translate(25.30,219.40) rotate(-90) scale(1.1708,1)" font-size="33" font-weight="normal" fill="#000">(J/kg.K)</text>
<text transform="translate(693.82,308.42) rotate(-90) scale(1.1942,1)" font-size="34.3" font-weight="normal" fill="#000">-</text>
<text transform="translate(695.40,293.56) rotate(-90) scale(0.9279,1)" font-size="31.2" font-weight="normal" fill="#000">Δ</text>
<text transform="translate(695.60,272.79) rotate(-90) scale(0.8913,1)" font-size="34.3" font-weight="normal" fill="#000">S</text>
<text transform="translate(707.30,250.58) rotate(-90) scale(0.8537,1)" font-size="21" font-weight="normal" fill="#000">V</text>
<text transform="translate(695.60,226.80) rotate(-90) scale(1.1286,1)" font-size="34.3" font-weight="normal" fill="#000">(mJ/cm</text>
<text transform="translate(679.10,100.77) rotate(-90) scale(1.1249,1)" font-size="18" font-weight="normal" fill="#000">3</text>
<text transform="translate(695.60,89.48) rotate(-90) scale(1.0933,1)" font-size="34.3" font-weight="normal" fill="#000">K)</text>
<text transform="translate(1064.12,151.57) rotate(-90) scale(1.0627,1)" font-size="18.5" font-weight="normal" fill="#000">-</text>
<text transform="translate(1064.70,144.48) rotate(-90) scale(0.9539,1)" font-size="16.9" font-weight="normal" fill="#000">Δ</text>
<text transform="translate(1064.70,133.14) rotate(-90) scale(0.8826,1)" font-size="18.5" font-weight="normal" fill="#000">S</text>
<text transform="translate(1070.70,121.25) rotate(-90) scale(0.9277,1)" font-size="11.3" font-weight="normal" fill="#000">V</text>
<text transform="translate(1064.70,107.87) rotate(-90) scale(1.1072,1)" font-size="18.5" font-weight="normal" fill="#000">(mJ/cm</text>
<text transform="translate(1055.70,40.30) rotate(-90) scale(0.9856,1)" font-size="10.7" font-weight="normal" fill="#000">3</text>
<text transform="translate(1064.70,33.52) rotate(-90) scale(1.0672,1)" font-size="18.5" font-weight="normal" fill="#000">K)</text>
</svg></body></html>
